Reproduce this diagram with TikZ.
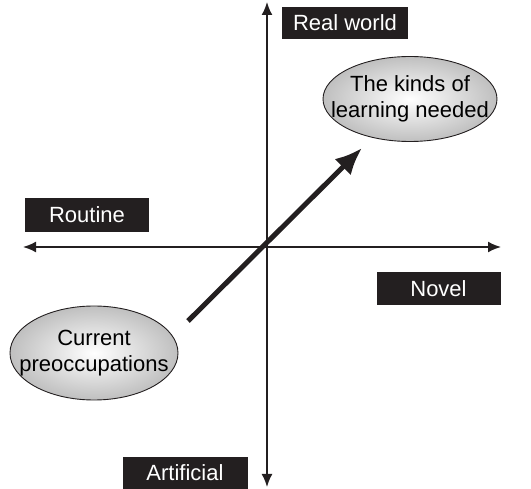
\documentclass[tikz,border=0pt]{standalone}
\usepackage{fontspec}
\setmainfont{Liberation Sans}
\usetikzlibrary{arrows.meta,shapes.geometric}
\definecolor{ink}{HTML}{231F20}
\tikzset{
  axis/.style={draw=ink, line width=1.8pt, {Latex[length=13pt,width=11pt]}-{Latex[length=13pt,width=11pt]}},
  tag/.style={fill=ink, text=white, inner sep=0pt, font=\fontsize{22}{25}\selectfont},
  bubble/.style={ellipse, draw=ink, line width=0.9pt, inner sep=0pt,
    inner color=white, outer color=black!25},
  bubbletext/.style={align=center, inner sep=0pt, font=\fontsize{22}{25.5}\selectfont},
  trend/.style={draw=ink, line width=5pt, -{Latex[length=27pt,width=23pt]}}
}
\begin{document}
\begin{tikzpicture}[x=1pt,y=-1pt]
  \useasboundingbox (0,0) rectangle (531,489);
  % axes
  \coordinate (top) at (267,2);
  \coordinate (bot) at (267,487);
  \coordinate (left) at (23,247);
  \coordinate (right) at (501,247);
  \draw[axis] (bot) -- (top);
  \draw[axis] (left) -- (right);
  % axis labels
  \node[tag, minimum width=126pt, minimum height=32pt] (real) at (345,23) {Real world};
  \node[tag, minimum width=124pt, minimum height=34pt] (routine) at (87,215) {Routine};
  \node[tag, minimum width=124pt, minimum height=33pt] (novel) at (438.5,288.5) {Novel};
  \node[tag, minimum width=125pt, minimum height=32pt] (artificial) at (185,473) {Artificial};
  % ellipses with their captions
  \node[bubble, minimum width=174pt, minimum height=85pt] (need) at (410,99) {};
  \node[bubbletext] (needtext) at (need.center) {The kinds of\\learning needed};
  \node[bubble, minimum width=168pt, minimum height=94pt] (cur) at (94,353) {};
  \node[bubbletext] (curtext) at (cur.center) {Current\\preoccupations};
  % trend arrow
  \coordinate (tail) at (188,321);
  \coordinate (tip) at (362,148);
  \draw[trend] (tail) -- (tip);
\end{tikzpicture}
\end{document}
